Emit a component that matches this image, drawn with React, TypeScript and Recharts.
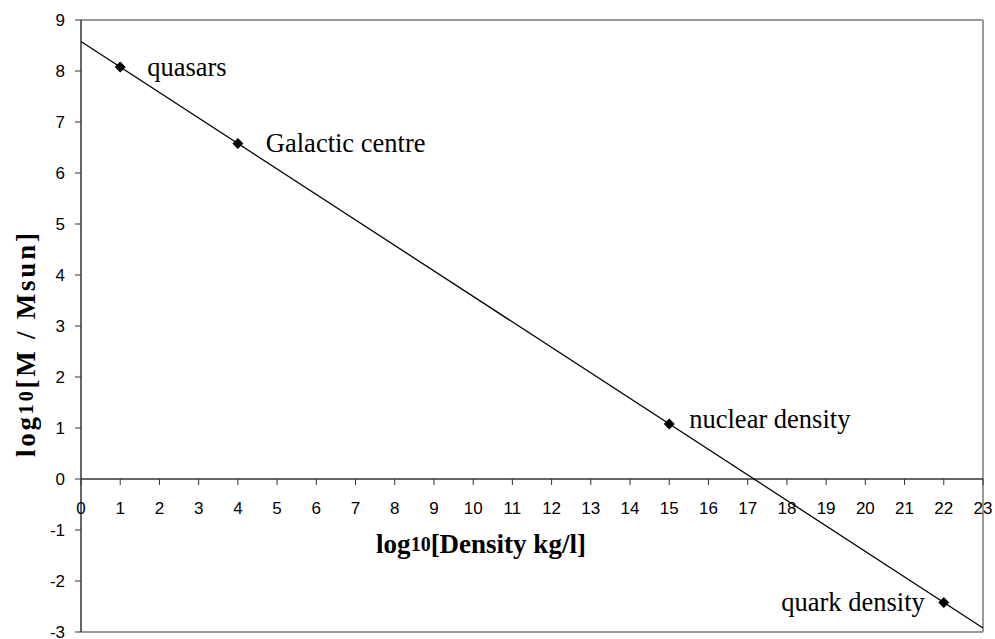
import React from 'react';
import {
  ComposedChart,
  Line,
  Scatter,
  XAxis,
  YAxis,
  ReferenceLine,
} from 'recharts';

// Objects and their position (log10 density, log10 mass)
const pointNames = ['quasars', 'Galactic centre', 'nuclear density', 'quark density'];
const pointDensity = [1, 4, 15, 22];
const pointMass = [8.08, 6.58, 1.08, -2.42];

// straight trend line across the whole x range
const trendDensity = [0, 23];
const trendMass = [8.58, -2.92];

const xTicks = [0, 1, 2, 3, 4, 5, 6, 7, 8, 9, 10, 11, 12, 13, 14, 15, 16, 17, 18, 19, 20, 21, 22, 23];
const yTicks = [-3, -2, -1, 0, 1, 2, 3, 4, 5, 6, 7, 8, 9];

const points = pointNames.map((name, i) => ({ name, x: pointDensity[i], y: pointMass[i] }));
const trend = trendDensity.map((x, i) => ({ x, y: trendMass[i] }));

const WIDTH = 995;
const HEIGHT = 639;
const MARGIN = { top: 20, right: 12, bottom: 6, left: 0 };
const X_AXIS_H = 1;
const Y_MIN = -3;
const Y_MAX = 9;
const PLOT_H = HEIGHT - MARGIN.top - MARGIN.bottom - X_AXIS_H;
// x axis crosses at y = 0, so shift tick marks up from the plot bottom
const AXIS_SHIFT = (PLOT_H * (0 - Y_MIN)) / (Y_MAX - Y_MIN);

const SANS = '"Liberation Sans", Arial, sans-serif';
const SERIF = '"Liberation Serif", "Times New Roman", serif';

// where each annotation sits relative to its marker
const labelPlace: Record<string, { anchor: 'start' | 'end'; dx: number; dy: number }> = {
  quasars: { anchor: 'start', dx: 27, dy: 0 },
  'Galactic centre': { anchor: 'start', dx: 28, dy: 0 },
  'nuclear density': { anchor: 'start', dx: 20, dy: -5 },
  'quark density': { anchor: 'end', dx: -19, dy: 0 },
};

const XTick = ({ x, y, payload }: any) => {
  const axisY = y - AXIS_SHIFT;
  return (
    <g>
      <line x1={x} y1={axisY} x2={x} y2={axisY + 6} stroke="#333" strokeWidth={1} />
      <text
        x={x}
        y={axisY + 29}
        textAnchor="middle"
        dominantBaseline="central"
        fontFamily={SANS}
        fontSize={17}
        fill="#000"
      >
        {payload.value}
      </text>
    </g>
  );
};

const Diamond = (props: any) => {
  const { cx, cy, payload } = props;
  const r = 5.5;
  const place = labelPlace[payload.name];
  return (
    <g>
      <polygon
        points={`${cx},${cy - r} ${cx + r},${cy} ${cx},${cy + r} ${cx - r},${cy}`}
        fill="#000"
      />
      <text
        x={cx + place.dx}
        y={cy + place.dy}
        textAnchor={place.anchor}
        dominantBaseline="central"
        fontFamily={SERIF}
        fontSize={26.5}
        fill="#000"
      >
        {payload.name}
      </text>
    </g>
  );
};

export default function App() {
  return (
    <div style={{ position: 'absolute', left: 0, top: 0, background: '#fff' }}>
      <ComposedChart width={WIDTH} height={HEIGHT} margin={MARGIN}>
        <XAxis
          type="number"
          dataKey="x"
          domain={[0, 23]}
          ticks={xTicks}
          interval={0}
          height={X_AXIS_H}
          axisLine={false}
          tickLine={false}
          tickSize={0}
          tickMargin={0}
          tick={<XTick />}
          label={{
            content: () => (
              <text
                x={481}
                y={544}
                textAnchor="middle"
                dominantBaseline="central"
                fontFamily={SERIF}
                fontWeight="bold"
                fontSize={27}
                fill="#000"
              >
                log<tspan fontSize={20}>10</tspan>[Density kg/l]
              </text>
            ),
          }}
        />
        <YAxis
          type="number"
          domain={[Y_MIN, Y_MAX]}
          ticks={yTicks}
          interval={0}
          width={81}
          axisLine={{ stroke: '#333', strokeWidth: 1.5 }}
          tickLine={{ stroke: '#333' }}
          tickSize={6}
          tickMargin={10}
          tick={{ fill: '#000', fontFamily: SANS, fontSize: 17 }}
          label={{
            content: () => (
              <text
                x={26}
                y={345}
                transform="rotate(-90 26 345)"
                textAnchor="middle"
                dominantBaseline="central"
                fontFamily={SERIF}
                fontWeight="bold"
                fontSize={27}
                textLength={224}
                lengthAdjust="spacing"
                fill="#000"
              >
                log<tspan fontSize={20}>10</tspan>[M / Msun]
              </text>
            ),
          }}
        />
        <ReferenceLine y={9} stroke="#999" strokeWidth={2} />
        <ReferenceLine y={-3} stroke="#999" strokeWidth={2} />
        <ReferenceLine x={23} stroke="#999" strokeWidth={2} />
        <ReferenceLine y={0} stroke="#333" strokeWidth={1.5} />
        <Line
          data={trend}
          dataKey="y"
          type="linear"
          stroke="#000"
          strokeWidth={1.3}
          dot={false}
          activeDot={false}
          isAnimationActive={false}
        />
        <Scatter data={points} dataKey="y" shape={<Diamond />} isAnimationActive={false} />
      </ComposedChart>
    </div>
  );
}
